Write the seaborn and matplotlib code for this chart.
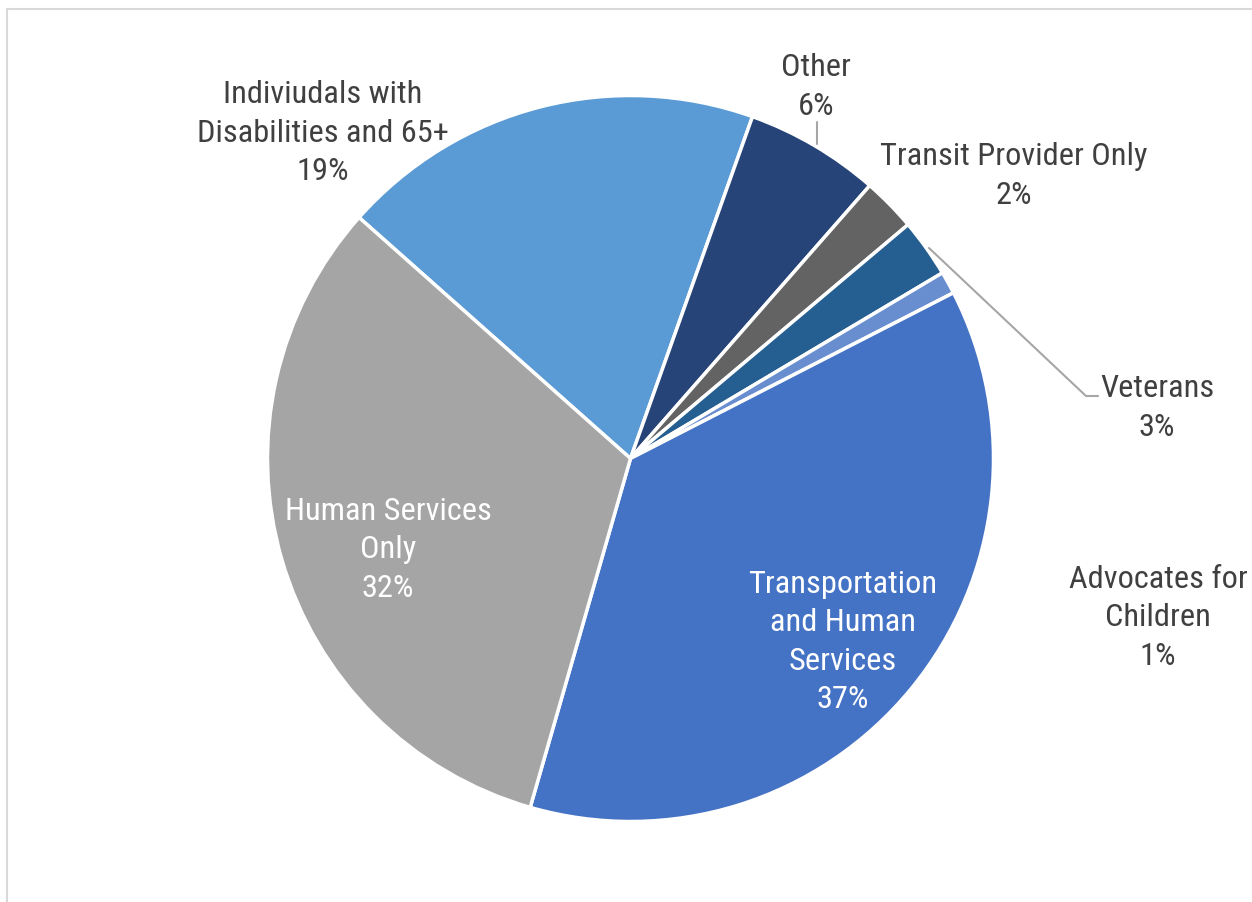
import matplotlib
matplotlib.use("Agg")
import matplotlib.pyplot as plt
import seaborn as sns
from matplotlib.patches import Rectangle

sns.set_theme(style="white")
plt.rcParams['font.family'] = ['Roboto Condensed', 'DejaVu Sans']

# ---- data (clockwise from the "Individuals" slice) ----
categories = ["Indiviudals with\nDisabilities and 65+", "Other", "Transit Provider Only",
              "Veterans", "Advocates for\nChildren", "Transportation\nand Human\nServices",
              "Human Services\nOnly"]
shares = [18.9, 6.0, 2.4, 2.6, 1.0, 37.0, 32.1]
colors = ["#5B9BD5", "#264478", "#636363", "#255E91", "#698ED0", "#4472C4", "#A5A5A5"]

# ---- layout (pixel coords, origin bottom-left) ----
W, H = 1252, 903
center = (630.5, H - 459.5)
radius = 363
label_pos = [(323, H - 133), (816, H - 87), (1014, H - 176), (1157, H - 408),
             (1158, H - 618), (843, H - 642), (388, H - 550)]
label_col = ["#404040"] * 5 + ["white", "white"]

fig = plt.figure(figsize=(W / 100, H / 100), dpi=100)
ax = fig.add_axes([0, 0, 1, 1])

ax.pie(shares, colors=colors, startangle=138.4, counterclock=False,
       center=center, radius=radius,
       wedgeprops=dict(edgecolor="white", linewidth=2.5), frame=True)
ax.set_xlim(0, W)
ax.set_ylim(0, H)
ax.set_aspect("equal")
ax.axis("off")

total = sum(shares)
for cat, v, (x, y), c in zip(categories, shares, label_pos, label_col):
    ax.text(x, y, f"{cat}\n{round(100 * v / total)}%", ha="center", va="center",
            fontsize=23.3, color=c, linespacing=1.4)

# leader lines
ax.plot([816.5, 816.5], [H - 123, H - 145], color="#A6A6A6", lw=1.5)
ax.plot([929, 1086, 1098], [H - 249, H - 397, H - 397], color="#A6A6A6", lw=1.5)

# chart border
fig.patches.append(Rectangle((6.5 / W, -0.1), 1.2, (H - 9.5) / H + 0.1,
                             transform=fig.transFigure, fill=False,
                             edgecolor="#D9D9D9", linewidth=1.5))

fig.savefig("out.png", dpi=100)
